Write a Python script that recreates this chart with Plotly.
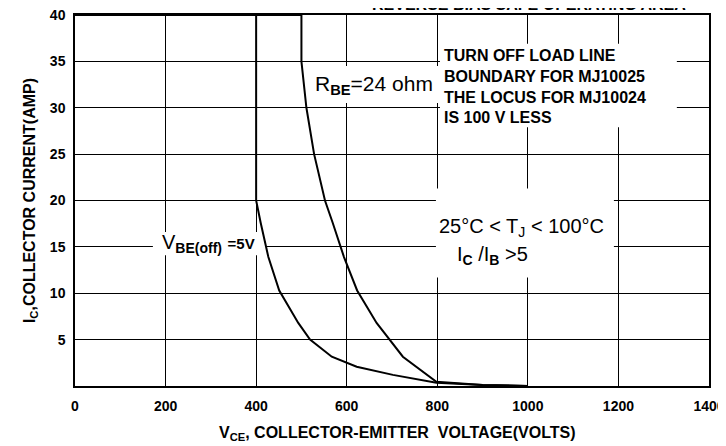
import plotly.graph_objects as go

# ---- data ----
x_ticks = [0, 200, 400, 600, 800, 1000, 1200, 1400]
y_ticks = [5, 10, 15, 20, 25, 30, 35, 40]

# R_BE = 24 ohm turn-off load line boundary
rbe_vce = [0, 500, 500, 511, 528, 552, 569, 594, 623, 666, 724, 798, 900, 1000]
rbe_ic = [40, 40, 35, 30, 25, 20, 17.6, 13.9, 10.3, 6.8, 3.16, 0.46, 0.12, 0]

# V_BE(off) = 5 V boundary
vbe_vce = [400, 400, 410, 427, 451, 493, 519, 567, 622, 702, 798, 900, 1000]
vbe_ic = [40, 20, 17.6, 13.9, 10.3, 6.8, 5.0, 3.16, 2.08, 1.2, 0.36, 0.12, 0]

FONT = "Liberation Sans, Arial, sans-serif"

fig = go.Figure()
fig.add_trace(go.Scatter(x=rbe_vce, y=rbe_ic, mode="lines",
                         line=dict(color="black", width=2), showlegend=False,
                         name="R_BE=24 ohm"))
fig.add_trace(go.Scatter(x=vbe_vce, y=vbe_ic, mode="lines",
                         line=dict(color="black", width=2), showlegend=False,
                         name="V_BE(off)=5V"))

# white boxes that hide the grid behind the labels
boxes = [
    (520, 802, 30.5, 34.5),
    (806, 1329, 27.9, 36.9),
    (797, 1190, 11.7, 21.3),
    (172, 424, 14.1, 16.6),
]
for x0, x1, y0, y1 in boxes:
    fig.add_shape(type="rect", x0=x0, x1=x1, y0=y0, y1=y1, xref="x", yref="y",
                  fillcolor="white", line=dict(width=0), layer="between")

fig.add_annotation(x=660, y=32.4, xref="x", yref="y", showarrow=False,
                   xanchor="center", yanchor="middle",
                   text="R<sub><b>BE</b></sub>=24 ohm",
                   font=dict(family=FONT, size=21, color="black"))
fig.add_annotation(x=810, y=32.3, xref="x", yref="y", showarrow=False,
                   xanchor="left", yanchor="middle", align="left",
                   text="TURN OFF LOAD LINE<br>BOUNDARY FOR MJ10025<br>THE LOCUS FOR MJ10024<br>IS 100 V LESS",
                   font=dict(family=FONT, size=16, color="black", weight="bold"))
fig.add_annotation(x=985, y=17.1, xref="x", yref="y", showarrow=False,
                   xanchor="center", yanchor="middle",
                   text="25°C &lt; T<sub>J</sub> &lt; 100°C",
                   font=dict(family=FONT, size=20, color="black"))
fig.add_annotation(x=923, y=14.1, xref="x", yref="y", showarrow=False,
                   xanchor="center", yanchor="middle",
                   text="I<sub><b>C</b></sub> /I<sub><b>B</b></sub> &gt;5",
                   font=dict(family=FONT, size=20, color="black"))
fig.add_annotation(x=401, y=15.4, xref="x", yref="y", showarrow=False,
                   xanchor="right", yanchor="middle",
                   text="V<sub><b>BE(off)</b></sub> <span style='font-size:15px'><b>=5V</b></span>",
                   font=dict(family=FONT, size=20, color="black"))

# axis titles
fig.add_annotation(x=-0.071, y=0.501, xref="paper", yref="paper", showarrow=False,
                   xanchor="center", yanchor="middle", textangle=-90,
                   text="I<sub>C</sub>,COLLECTOR CURRENT(AMP)",
                   font=dict(family=FONT, size=16, color="black", weight="bold"))
fig.add_annotation(x=0.509, y=-0.129, xref="paper", yref="paper", showarrow=False,
                   xanchor="center", yanchor="middle",
                   text="V<sub>CE</sub>, COLLECTOR-EMITTER  VOLTAGE(VOLTS)",
                   font=dict(family=FONT, size=16, color="black", weight="bold"))
# chart title, cut off by the top edge as in the reference
fig.add_annotation(x=(688 - 75) / 634, y=1.029, xref="paper", yref="paper",
                   showarrow=False, xanchor="right", yanchor="middle",
                   text="REVERSE BIAS SAFE OPERATING AREA",
                   font=dict(family=FONT, size=16, color="black", weight="bold"))

axis_common = dict(showgrid=True, gridcolor="black", gridwidth=1,
                   showline=True, linecolor="black", linewidth=1.5, mirror=True,
                   zeroline=False, ticks="", automargin=False,
                   ticklabeloverflow="allow",
                   tickfont=dict(family=FONT, size=14, color="black", weight="bold"))

fig.update_xaxes(range=[0, 1400], tickvals=x_ticks, ticktext=[str(v) for v in x_ticks],
                 ticklabelstandoff=6, **axis_common)
fig.update_yaxes(range=[0, 40], tickvals=y_ticks, ticktext=[str(v) for v in y_ticks],
                 ticklabelstandoff=5, **axis_common)

# the page adds an 8 px body margin around the figure
fig.update_layout(width=718, height=438,
                  margin=dict(l=67, r=17, t=7, b=60, autoexpand=False),
                  paper_bgcolor="white", plot_bgcolor="white",
                  showlegend=False)

fig.write_html("out.html")
